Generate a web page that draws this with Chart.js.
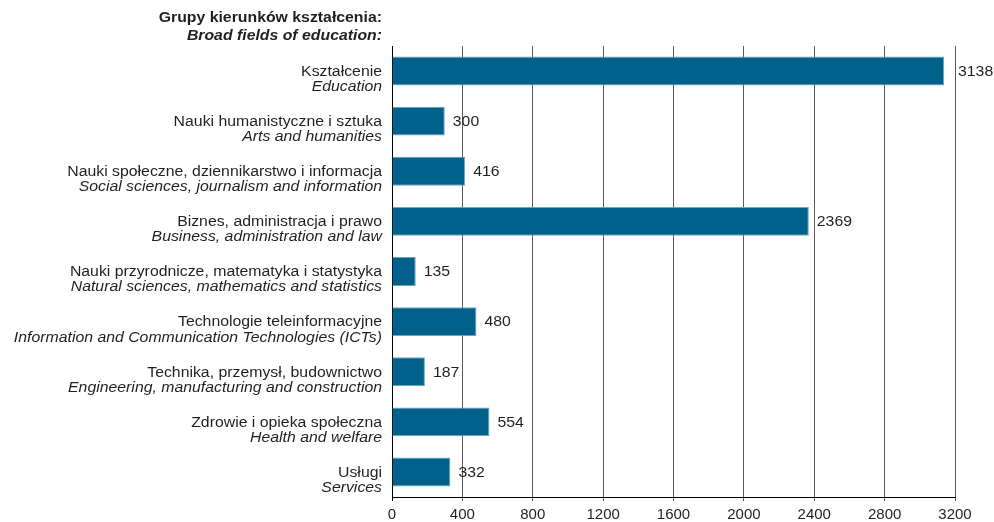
<!DOCTYPE html>
<html>
<head>
<meta charset="utf-8">
<script src="https://cdn.jsdelivr.net/npm/chart.js@4/dist/chart.umd.min.js"></script>
<style>
  html, body { margin: 0; padding: 0; background: #fff; }
  #wrap { width: 994px; height: 522px; }
</style>
</head>
<body>
<div id="wrap"><canvas id="myChart"></canvas></div>
<script>
var namesPl = [
    "Kształcenie",
    "Nauki humanistyczne i sztuka",
    "Nauki społeczne, dziennikarstwo i informacja",
    "Biznes, administracja i prawo",
    "Nauki przyrodnicze, matematyka i statystyka",
    "Technologie teleinformacyjne",
    "Technika, przemysł, budownictwo",
    "Zdrowie i opieka społeczna",
    "Usługi"
];
var namesEn = [
    "Education",
    "Arts and humanities",
    "Social sciences, journalism and information",
    "Business, administration and law",
    "Natural sciences, mathematics and statistics",
    "Information and Communication Technologies (ICTs)",
    "Engineering, manufacturing and construction",
    "Health and welfare",
    "Services"
];
var values = [3138, 300, 416, 2369, 135, 480, 187, 554, 332];
var xTicks = [0, 400, 800, 1200, 1600, 2000, 2400, 2800, 3200];

var FONT = "'Liberation Sans', Arial, sans-serif";
var STRETCH = 1.13; // the reference text is a bit wider than it is tall

function stretchedText(ctx, text, x, y, align) {
    ctx.save();
    ctx.translate(x, y);
    ctx.scale(STRETCH, 1);
    ctx.textAlign = align;
    ctx.fillText(text, 0, 0);
    ctx.restore();
}

// draws the two-line category labels, the header and the value labels
var labelsPlugin = {
    id: 'labelsPlugin',
    afterDatasetsDraw: function(chart) {
        var ctx = chart.ctx;
        var yScale = chart.scales.y;
        var area = chart.chartArea;
        var right = area.left - 10;
        ctx.save();
        ctx.fillStyle = "#231f20";
        ctx.textBaseline = "middle";

        ctx.font = "bold 14px " + FONT;
        stretchedText(ctx, "Grupy kierunków kształcenia:", right, 18, "right");
        ctx.font = "italic bold 14px " + FONT;
        stretchedText(ctx, "Broad fields of education:", right, 36, "right");

        for (var i = 0; i < namesPl.length; i++) {
            var y = yScale.getPixelForValue(i);
            ctx.font = "14px " + FONT;
            stretchedText(ctx, namesPl[i], right, y + 1, "right");
            ctx.font = "italic 14px " + FONT;
            stretchedText(ctx, namesEn[i], right, y + 16, "right");
        }

        ctx.font = "14px " + FONT;
        var meta = chart.getDatasetMeta(0);
        meta.data.forEach(function(bar, i) {
            var x = bar.x + 8;
            if (x < area.right + 3 && x + 20 > area.right) x = area.right + 3;
            stretchedText(ctx, String(values[i]), x, bar.y + 1, "left");
        });
        ctx.restore();
    }
};

var ctx = document.getElementById("myChart");
var myChart = new Chart(ctx, {
    type: 'bar',
    data: {
        labels: namesPl,
        datasets: [{
            data: values,
            backgroundColor: "#00618a",
            borderColor: "#6fa3c0",
            borderWidth: 1,
            categoryPercentage: 0.8,
            barPercentage: 0.72
        }]
    },
    options: {
        indexAxis: 'y',
        responsive: true,
        maintainAspectRatio: false,
        animation: false,
        layout: { padding: { left: 392, top: 46, right: 39, bottom: 0 } },
        plugins: {
            legend: { display: false },
            tooltip: { enabled: false }
        },
        scales: {
            x: {
                min: 0,
                max: 3200,
                afterBuildTicks: function(axis) {
                    axis.ticks = xTicks.map(function(v) { return { value: v }; });
                },
                afterFit: function(axis) { axis.height = 25; },
                ticks: {
                    color: "#231f20",
                    font: { family: FONT, size: 15 },
                    padding: 5,
                    maxRotation: 0,
                    callback: function(v) { return String(v); }
                },
                grid: {
                    color: function(c) { return c.index === 0 ? "#000" : "#5a5a5a"; },
                    lineWidth: 1,
                    tickLength: 4,
                    drawTicks: true
                },
                border: { display: true, color: "#000", width: 1 }
            },
            y: {
                ticks: { display: false },
                grid: { display: false, drawTicks: false },
                border: { display: true, color: "#000", width: 1 }
            }
        }
    },
    plugins: [labelsPlugin]
});
</script>
</body>
</html>
